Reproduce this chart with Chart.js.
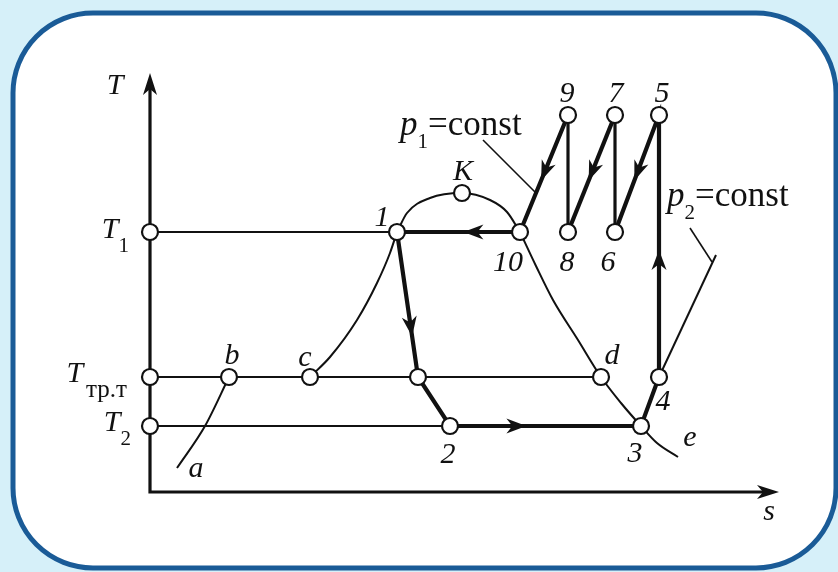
<!DOCTYPE html>
<html>
<head>
<meta charset="utf-8">
<script src="https://cdn.jsdelivr.net/npm/chart.js@4.4.0/dist/chart.umd.min.js"></script>
<style>
  html, body { margin: 0; padding: 0; background: #d6f0f9; }
  canvas { display: block; }
</style>
</head>
<body>
<canvas id="ts" width="838" height="572"></canvas>
<script>
// --- T-s diagram data (s = entropy, T = temperature, arbitrary units) ---

// levels
const T1 = 26.0, Ttr = 11.5, T2 = 6.6, Ttop = 37.7;

// nodes of the cycle and of the saturation curve
const nodeNames = ['1', '10', 'K', '9', '8', '7', '6', '5', '4', '3', '2', 'f', 'd', 'b', 'c', 'T1', 'Ttr', 'T2'];
const nodeS     = [24.7, 37.0, 31.2, 41.8, 41.8, 46.5, 46.5, 50.9, 50.9, 49.1, 30.0, 26.8, 45.1, 7.9, 16.0, 0, 0, 0];
const nodeT     = [T1,   T1,   29.9, Ttop, T1,   Ttop, T1,   Ttop, Ttr,  T2,   T2,   Ttr,  Ttr,  Ttr, Ttr,  T1, Ttr, T2];

// saturation curve: left branch c-1, dome 1-K-10, right branch 10-d-3-e
const satLeftS  = [16.0, 18.0, 20.7, 22.7, 24.0, 24.7];
const satLeftT  = [11.5, 13.5, 17.2, 20.9, 23.9, 26.0];
const domeS     = [24.7, 25.7, 28.0, 31.2, 34.0, 35.7, 37.0];
const domeT     = [26.0, 27.9, 29.4, 29.9, 29.2, 28.0, 26.0];
const satRightS = [37.0, 38.6, 40.3, 42.8, 45.1, 47.1, 49.1, 50.7, 52.8];
const satRightT = [26.0, 22.6, 19.2, 15.2, 11.5, 8.9, 6.6, 4.9, 3.5];

// melting line a-b
const meltS = [2.7, 5.5, 7.9];
const meltT = [2.4, 6.6, 11.5];

// isobar p2 through point 4 and the two leader lines
const p2LineS = [50.9, 56.6];
const p2LineT = [11.5, 23.7];
const p1LeaderS = [33.3, 38.6];
const p1LeaderT = [35.2, 29.9];
const p2LeaderS = [54.0, 56.2];
const p2LeaderT = [26.4, 23.0];

// axes ends
const sAxisEnd = 62.9;
const TAxisEnd = 41.9;

// cycle path (by node name)
const cyclePathA = ['1', 'f', '2', '3', '4', '5', '6'];
const cyclePathB = ['7', '8'];
const cyclePathC = ['9', '10', '1'];
const riserA = ['6', '7'];
const riserB = ['8', '9'];

// direction arrows: [from, to, fraction of the way where the tip sits]
const arrowDefs = [
  ['10', '1', 0.46],
  ['1', 'f', 0.72],
  ['2', '3', 0.40],
  ['4', '5', 0.485],
  ['5', '6', 0.56],
  ['7', '8', 0.56],
  ['9', '10', 0.56]
];

// --- helpers ---
const node = name => {
  const i = nodeNames.indexOf(name);
  return { x: nodeS[i], y: nodeT[i] };
};
const path = names => names.map(node);
const pts = (xs, ys) => xs.map((x, i) => ({ x: x, y: ys[i] }));

const ink = '#111111';
const serif = '"Liberation Serif", "Times New Roman", serif';

function line(data, width, smooth) {
  const ds = {
    data: data,
    showLine: true,
    borderColor: ink,
    borderWidth: width,
    tension: 0,
    pointRadius: 0,
    borderJoinStyle: 'miter',
    borderCapStyle: 'butt',
    order: 1
  };
  if (smooth) ds.cubicInterpolationMode = 'monotone';
  return ds;
}

// --- labels: text parts, anchor node / point, pixel offset ---
// part kinds: 'i' italic, 'r' roman, 's' subscript roman
const labels = [
  { parts: [['T', 'i']], at: { x: 0, y: TAxisEnd }, dx: -35, dy: 13, align: 'center' },
  { parts: [['s', 'i']], at: { x: sAxisEnd, y: 0 }, dx: -10, dy: 20, align: 'center' },
  { parts: [['T', 'i'], ['1', 's']], at: 'T1', dx: -21, dy: -2, align: 'right' },
  { parts: [['T', 'i'], ['тр.т', 's']], at: 'Ttr', dx: -23, dy: -3, align: 'right', sub: 25, gap: 3 },
  { parts: [['T', 'i'], ['2', 's']], at: 'T2', dx: -19, dy: -3, align: 'right' },
  { parts: [['1', 'i']], at: '1', dx: -15, dy: -14, align: 'center' },
  { parts: [['10', 'i']], at: '10', dx: -12, dy: 31, align: 'center' },
  { parts: [['K', 'i']], at: 'K', dx: 1, dy: -21, align: 'center' },
  { parts: [['9', 'i']], at: '9', dx: -1, dy: -21, align: 'center' },
  { parts: [['7', 'i']], at: '7', dx: 1, dy: -21, align: 'center' },
  { parts: [['5', 'i']], at: '5', dx: 3, dy: -21, align: 'center' },
  { parts: [['8', 'i']], at: '8', dx: -1, dy: 31, align: 'center' },
  { parts: [['6', 'i']], at: '6', dx: -7, dy: 31, align: 'center' },
  { parts: [['4', 'i']], at: '4', dx: 4, dy: 25, align: 'center' },
  { parts: [['3', 'i']], at: '3', dx: -6, dy: 28, align: 'center' },
  { parts: [['2', 'i']], at: '2', dx: -2, dy: 29, align: 'center' },
  { parts: [['d', 'i']], at: 'd', dx: 11, dy: -21, align: 'center' },
  { parts: [['b', 'i']], at: 'b', dx: 3, dy: -21, align: 'center' },
  { parts: [['c', 'i']], at: 'c', dx: -5, dy: -19, align: 'center' },
  { parts: [['a', 'i']], at: { x: meltS[0], y: meltT[0] }, dx: 19, dy: 1, align: 'center' },
  { parts: [['e', 'i']], at: { x: satRightS[8], y: satRightT[8] }, dx: 12, dy: -19, align: 'center' },
  { parts: [['p', 'i'], ['1', 's'], ['=const', 'r']], at: { x: p1LeaderS[0], y: p1LeaderT[0] }, dx: -83, dy: -14, align: 'left', size: 35 },
  { parts: [['p', 'i'], ['2', 's'], ['=const', 'r']], at: { x: p2LeaderS[0], y: p2LeaderT[0] }, dx: -23, dy: -31, align: 'left', size: 35 }
];

const mainSize = 30;
const subSize = 21;

function partFont(kind, size, sub) {
  if (kind === 'i') return 'italic ' + size + 'px ' + serif;
  if (kind === 's') return sub + 'px ' + serif;
  return size + 'px ' + serif;
}

function drawRich(ctx, x, y, l) {
  const size = l.size || mainSize, sub = l.sub || subSize, gap = l.gap || 0;
  let w = 0;
  l.parts.forEach(p => { ctx.font = partFont(p[1], size, sub); w += ctx.measureText(p[0]).width; });
  w += gap;
  let cx = l.align === 'center' ? x - w / 2 : l.align === 'right' ? x - w : x;
  ctx.textAlign = 'left';
  ctx.textBaseline = 'middle';
  l.parts.forEach(p => {
    ctx.font = partFont(p[1], size, sub);
    if (p[1] === 's') cx += gap;
    const yy = p[1] === 's' ? y + 16 : y;
    ctx.fillText(p[0], cx, yy);
    cx += ctx.measureText(p[0]).width;
  });
}

function arrowHead(ctx, tipX, tipY, ux, uy, len, half) {
  const nx = -uy, ny = ux;
  ctx.beginPath();
  ctx.moveTo(tipX, tipY);
  ctx.lineTo(tipX - ux * len + nx * half, tipY - uy * len + ny * half);
  ctx.lineTo(tipX - ux * (len - 6), tipY - uy * (len - 6));
  ctx.lineTo(tipX - ux * len - nx * half, tipY - uy * len - ny * half);
  ctx.closePath();
  ctx.fill();
}

// --- plugins ---
const framePlugin = {
  id: 'frame',
  beforeDraw(chart) {
    const ctx = chart.ctx;
    ctx.save();
    ctx.fillStyle = '#d6f0f9';
    ctx.fillRect(0, 0, chart.width, chart.height);
    ctx.beginPath();
    ctx.roundRect(13, 13, 823, 555, 80);
    ctx.fillStyle = '#ffffff';
    ctx.fill();
    ctx.lineWidth = 5;
    ctx.strokeStyle = '#1a5b97';
    ctx.stroke();
    ctx.restore();
  }
};

const annotatePlugin = {
  id: 'annotate',
  afterDatasetsDraw(chart) {
    const ctx = chart.ctx;
    const xs = chart.scales.x, ys = chart.scales.y;
    const px = p => ({ x: xs.getPixelForValue(p.x), y: ys.getPixelForValue(p.y) });
    ctx.save();
    ctx.fillStyle = ink;

    // flow arrows along the cycle
    arrowDefs.forEach(a => {
      const p0 = px(node(a[0])), p1 = px(node(a[1]));
      const dx = p1.x - p0.x, dy = p1.y - p0.y;
      const d = Math.hypot(dx, dy);
      arrowHead(ctx, p0.x + dx * a[2], p0.y + dy * a[2], dx / d, dy / d, 20, 7.5);
    });

    // axis arrows
    const tTop = px({ x: 0, y: TAxisEnd });
    const sEnd = px({ x: sAxisEnd, y: 0 });
    arrowHead(ctx, tTop.x, tTop.y, 0, -1, 22, 7);
    arrowHead(ctx, sEnd.x, sEnd.y, 1, 0, 22, 7);

    // labels
    labels.forEach(l => {
      const a = typeof l.at === 'string' ? node(l.at) : l.at;
      const p = px(a);
      drawRich(ctx, p.x + l.dx, p.y + l.dy, l);
    });
    ctx.restore();
  }
};

// --- chart ---
const datasets = [
  {
    data: path(nodeNames),
    showLine: false,
    pointRadius: 8,
    pointHoverRadius: 8,
    pointBackgroundColor: '#ffffff',
    pointBorderColor: ink,
    pointBorderWidth: 2.2,
    order: 0
  },
  // axes
  line([{ x: 0, y: TAxisEnd - 1.5 }, { x: 0, y: 0 }, { x: sAxisEnd - 1.5, y: 0 }], 3.2),
  // thin isotherms
  line([node('T1'), node('1')], 2),
  line([node('Ttr'), node('d')], 2),
  line([node('T2'), node('2')], 2),
  // saturation and melting curves
  line(pts(satLeftS, satLeftT), 2, true),
  line(pts(domeS, domeT), 2, true),
  line(pts(satRightS, satRightT), 2, true),
  line(pts(meltS, meltT), 2, true),
  // isobar p2 and leaders
  line(pts(p2LineS, p2LineT), 2),
  line(pts(p1LeaderS, p1LeaderT), 1.6),
  line(pts(p2LeaderS, p2LeaderT), 1.6),
  // cycle
  line(path(cyclePathA), 4.2),
  line(path(cyclePathB), 4.2),
  line(path(cyclePathC), 4.2),
  line(path(riserA), 3.2),
  line(path(riserB), 3.2)
];

new Chart(document.getElementById('ts'), {
  type: 'scatter',
  data: { datasets: datasets },
  options: {
    responsive: false,
    animation: false,
    devicePixelRatio: 1,
    layout: { padding: 0, autoPadding: false },
    plugins: { legend: { display: false }, tooltip: { enabled: false } },
    scales: {
      x: { type: 'linear', min: -15, max: 68.8, display: false },
      y: { type: 'linear', min: -8, max: 49.2, display: false }
    }
  },
  plugins: [framePlugin, annotatePlugin]
});
</script>
</body>
</html>
